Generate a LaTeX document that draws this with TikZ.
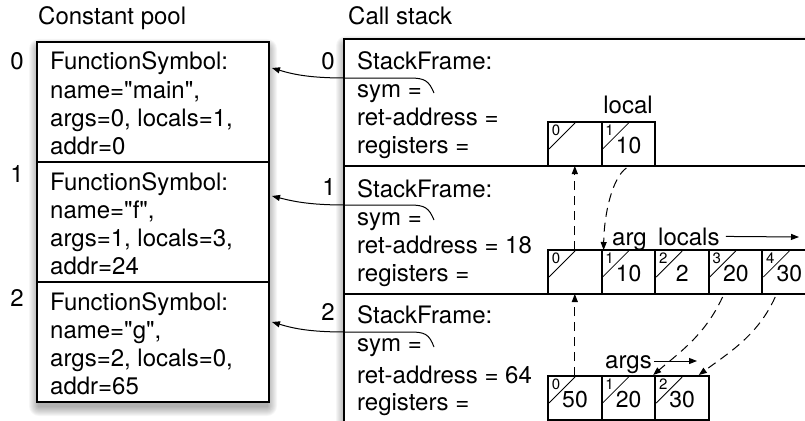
\documentclass[tikz,border=0pt]{standalone}
\usepackage{fontspec}
\setmainfont{TeX Gyre Heros}[Ligatures=TeXOff]
\usetikzlibrary{arrows.meta}
\newcommand\regcell[5]{%
  \node[cell] (#1) at (#2,#3) {};
  \draw[line width=0.8pt] ([xshift=1pt,yshift=-27pt]#1.north west) -- ([xshift=27pt,yshift=-1pt]#1.north west);
  \node[smallidx] (#1i) at ([xshift=8pt,yshift=-13pt]#1.north west) {#4};
  \node[val] (#1v) at ([xshift=27pt,yshift=-31pt]#1.north west) {#5};
}
\begin{document}
\begin{tikzpicture}[x=1pt,y=-1pt,
  box/.style={draw, line width=2pt, fill=white, anchor=north west, inner sep=0pt, outer sep=0pt},
  divider/.style={line width=2.3pt},
  cell/.style={draw, line width=1.9pt, fill=white, minimum width=53.6pt, minimum height=44pt, anchor=north west, inner sep=0pt, outer sep=0pt},
  txt/.style={anchor=base west, inner sep=0pt, font=\fontsize{24}{28}\selectfont},
  idx/.style={anchor=base, inner sep=0pt, font=\fontsize{24}{28}\selectfont},
  lbl/.style={anchor=base west, inner sep=0pt, font=\fontsize{24}{28}\selectfont},
  smallidx/.style={anchor=base, inner sep=0pt, font=\fontsize{15}{16}\selectfont},
  val/.style={anchor=base, inner sep=0pt, font=\fontsize{23}{24}\selectfont},
  ptr/.style={line width=1pt, -{Triangle[length=8pt,width=6pt]}},
  dptr/.style={ptr, dash pattern=on 9pt off 6pt},
]
\useasboundingbox (0,0) rectangle (805,420);
\clip (0,0) rectangle (805,420);

% shadows
\foreach \r in {1,...,10}{
  \fill[black, opacity=0.035, rounded corners=\r pt] (37-\r+2, 42+5-\r+2) rectangle (269+\r-2, 402+6+\r-2);
  \fill[black, opacity=0.035, rounded corners=\r pt] (344-\r+2, 39+5-\r+2) rectangle (900, 500);
}

% headers
\node[lbl] (hcp) at (38,25) {Constant pool};
\node[lbl] (hcs) at (348,25) {Call stack};

% constant pool
\node[box, minimum width=232pt, minimum height=120pt] (cp0) at (37,42) {};
\node[box, minimum width=232pt, minimum height=120pt] (cp1) at (37,162) {};
\node[box, minimum width=232pt, minimum height=120pt] (cp2) at (37,282) {};

\node[idx] (ci0) at (17,69) {0};
\node[idx] (ci1) at (17,182) {1};
\node[idx] (ci2) at (17,306) {2};

\node[txt] (c0a) at (50,70) {FunctionSymbol:};
\node[txt] (c0b) at (50,98) {name="main",};
\node[txt] (c0c) at (50,126) {args=0, locals=1,};
\node[txt] (c0d) at (50,154) {addr=0};
\node[txt] (c1a) at (50,190) {FunctionSymbol:};
\node[txt] (c1b) at (50,218) {name="f",};
\node[txt] (c1c) at (50,246) {args=1, locals=3,};
\node[txt] (c1d) at (50,274) {addr=24};
\node[txt] (c2a) at (50,310) {FunctionSymbol:};
\node[txt] (c2b) at (50,338) {name="g",};
\node[txt] (c2c) at (50,366) {args=2, locals=0,};
\node[txt] (c2d) at (50,394) {addr=65};

% call stack
\node[box, minimum width=520pt, minimum height=127pt] (sf0) at (344,39) {};
\node[box, minimum width=520pt, minimum height=128pt] (sf1) at (344,166) {};
\node[box, minimum width=520pt, minimum height=128pt] (sf2) at (344,294) {};
\draw[divider] (sf1.north west) -- (sf1.north east);
\draw[divider] (sf2.north west) -- (sf2.north east);

\node[idx] (si0) at (328,69) {0};
\node[idx] (si1) at (329,195) {1};
\node[idx] (si2) at (328,320) {2};

\node[txt] (s0a) at (357,69) {StackFrame:};
\node[txt] (s0b) at (357,97) {sym =};
\node[txt] (s0c) at (357,125) {ret-address =};
\node[txt] (s0d) at (357,153) {registers =};
\node[txt] (s1a) at (357,197) {StackFrame:};
\node[txt] (s1b) at (357,225) {sym =};
\node[txt] (s1c) at (357,253) {ret-address = 18};
\node[txt] (s1d) at (357,281) {registers =};
\node[txt] (s2a) at (357,323) {StackFrame:};
\node[txt] (s2b) at (357,351) {sym =};
\node[txt] (s2c) at (357,383) {ret-address = 64};
\node[txt] (s2d) at (357,410) {registers =};

% register cells
\regcell{r0c0}{548}{122}{0}{}
\regcell{r0c1}{601.6}{122}{1}{10}
\regcell{r1c0}{548}{250}{0}{}
\regcell{r1c1}{601.6}{250}{1}{10}
\regcell{r1c2}{655.2}{250}{2}{2}
\regcell{r1c3}{708.8}{250}{3}{20}
\regcell{r1c4}{762.4}{250}{4}{30}
\regcell{r2c0}{548}{376}{0}{50}
\regcell{r2c1}{601.6}{376}{1}{20}
\regcell{r2c2}{655.2}{376}{2}{30}

% labels
\node[lbl, anchor=base] (llocal) at (628,113) {local};
\node[lbl] (larg) at (612,245) {arg};
\node[lbl] (llocals) at (658,245) {locals};
\node[lbl] (largs) at (605,368) {args};
\coordinate (localsend) at (799,237);
\coordinate (argsend) at (697,361);
\draw[ptr] ([xshift=6pt,yshift=0pt]llocals.east) -- (localsend);
\draw[ptr] ([xshift=2pt]largs.east |- argsend) -- (argsend);

% symbol pointers
\coordinate (h0) at (434,93);
\coordinate (h1) at (434,220);
\coordinate (h2) at (434,347);
\draw[ptr] (h0) .. controls (429,81) and (425,78) .. (410,78) -- (345,78)
  .. controls (308,78) and (292,74) .. ([xshift=3pt,yshift=34pt]cp0.east);
\draw[ptr] (h1) .. controls (429,208) and (425,205) .. (410,205) -- (345,205)
  .. controls (308,205) and (292,201) .. ([xshift=3pt,yshift=26pt]cp1.east);
\draw[ptr] (h2) .. controls (429,334) and (425,332) .. (410,332) -- (345,332)
  .. controls (308,332) and (292,328) .. ([xshift=3pt,yshift=20pt]cp2.east);

% register flow (dashed)
\draw[dptr] (r2c0.north) -- (r1c0.south);
\draw[dptr] (r1c0.north) -- (r0c0.south);
\draw[dptr] ([xshift=-2pt,yshift=-2pt]r0c1.south) .. controls (612,178) and (604,215) .. ([xshift=2pt]r1c1.north west);
\draw[dptr] ([xshift=-13pt,yshift=-3pt]r1c3.south) .. controls (705,335) and (680,352) .. ([xshift=-2pt,yshift=1pt]r2c1.north east);
\draw[dptr] ([xshift=-14pt,yshift=-3pt]r1c4.south) .. controls (758,335) and (730,352) .. ([xshift=-10pt,yshift=1pt]r2c2.north east);
\end{tikzpicture}
\end{document}
